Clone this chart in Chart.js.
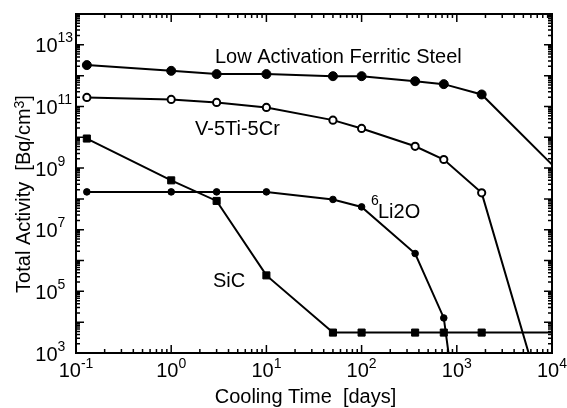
<!DOCTYPE html>
<html><head><meta charset="utf-8">
<script src="https://cdn.jsdelivr.net/npm/chart.js@4/dist/chart.umd.min.js"></script>
<style>html,body{margin:0;padding:0;background:#fff;}canvas{display:block;}</style>
</head><body>
<canvas id="c" width="567" height="408"></canvas>
<script>
// ---- data ----
const coolingDays = [0.13, 1, 3, 10, 50, 100, 365, 730, 1825, 10000];
const steelActivity = [2.2e12, 1.43e12, 1.12e12, 1.12e12, 9.6e11, 9.6e11, 6.6e11, 5.3e11, 2.45e11, 1.3e9];
const vanadiumActivity = [1.96e11, 1.69e11, 1.35e11, 9.3e10, 3.6e10, 1.93e10, 5.1e9, 1.9e9, 1.57e8, 2.6];
const li2oDays = [0.13, 1, 3, 10, 50, 100, 365, 730, 1825];
const li2oActivity = [1.69e8, 1.69e8, 1.69e8, 1.69e8, 9.6e7, 5.5e7, 1.69e6, 1.37e4, 1e-5];
const sicActivity = [9.1e9, 4.0e8, 8.6e7, 3.3e5, 4.6e3, 4.6e3, 4.6e3, 4.6e3, 4.6e3, 4.6e3];
const seriesNames = ['Low Activation Ferritic Steel', 'V-5Ti-5Cr', 'Li2O', 'SiC'];
const li2oIsotope = '6';
const xTickExponents = [-1, 0, 1, 2, 3, 4];
const yTickExponents = [3, 5, 7, 9, 11, 13];
const xRange = [0.1, 1e4];
const yRange = [1e3, 1e14];
const xTitle = 'Cooling Time  [days]';
const yTitleParts = ['Total Activity  [Bq/cm', '3', ']'];

const FONT = '"Liberation Sans", Arial, Helvetica, sans-serif';
const pts = (xs, ys) => xs.map((x, i) => ({x: x, y: ys[i]}));
const hideEdge = (r) => (ctx) => (ctx.raw && ctx.raw.x >= xRange[1]) ? 0 : r;

const framePlugin = {
  id: 'frame',
  beforeDraw(chart) {
    const c = chart.ctx;
    c.save(); c.fillStyle = '#fff'; c.fillRect(0, 0, chart.width, chart.height); c.restore();
  },
  afterDatasetsDraw(chart) {
    const c = chart.ctx, a = chart.chartArea, xs = chart.scales.x, ys = chart.scales.y;
    c.save();
    c.strokeStyle = '#000';
    c.lineWidth = 1.5;
    c.beginPath();
    const x0 = Math.round(Math.log10(xRange[0])), x1 = Math.round(Math.log10(xRange[1]));
    for (let e = x0; e <= x1; e++) {
      for (let m = 1; m <= 9; m++) {
        const v = m * Math.pow(10, e);
        if (v > xRange[1] * 1.0001) break;
        const px = xs.getPixelForValue(v);
        const len = m === 1 ? 8 : 4;
        c.moveTo(px, a.bottom); c.lineTo(px, a.bottom - len);
        c.moveTo(px, a.top); c.lineTo(px, a.top + len);
      }
    }
    const y0 = Math.round(Math.log10(yRange[0])), y1 = Math.round(Math.log10(yRange[1]));
    for (let e = y0; e <= y1; e++) {
      for (let m = 1; m <= 9; m++) {
        const v = m * Math.pow(10, e);
        if (v > yRange[1] * 1.0001) break;
        const py = ys.getPixelForValue(v);
        const len = m === 1 ? 8 : 4;
        c.moveTo(a.left, py); c.lineTo(a.left + len, py);
        c.moveTo(a.right, py); c.lineTo(a.right - len, py);
      }
    }
    c.stroke();
    c.lineWidth = 2;
    c.strokeRect(a.left, a.top, a.right - a.left, a.bottom - a.top);
    c.restore();
  },
  afterDraw(chart) {
    const c = chart.ctx, a = chart.chartArea, xs = chart.scales.x, ys = chart.scales.y;
    c.save();
    c.fillStyle = '#000';
    c.textBaseline = 'alphabetic';
    c.textAlign = 'left';
    const big = '20px ' + FONT, sup = '14px ' + FONT;
    // x tick labels
    xTickExponents.forEach(e => {
      const px = xs.getPixelForValue(Math.pow(10, e));
      c.font = big; const wb = c.measureText('10').width;
      const es = String(e);
      c.font = sup; const we = c.measureText(es).width;
      const start = px - (wb + we) / 2;
      c.font = big; c.fillText('10', start, a.bottom + 24);
      c.font = sup; c.fillText(es, start + wb, a.bottom + 15);
    });
    // y tick labels
    yTickExponents.forEach(e => {
      const py = ys.getPixelForValue(Math.pow(10, e));
      c.font = big; const wb = c.measureText('10').width;
      const edge = a.left - 18.5;
      c.fillText('10', edge - wb, py + 7.5);
      c.font = sup; c.fillText(String(e), edge, py - 2.5);
    });
    // x title
    c.font = big;
    const wt = c.measureText(xTitle).width;
    c.fillText(xTitle, 305.5 - wt / 2, 403);
    // y title (rotated)
    c.save();
    c.translate(30, 194);
    c.rotate(-Math.PI / 2);
    c.font = big; const w1 = c.measureText(yTitleParts[0]).width;
    c.font = sup; const w2 = c.measureText(yTitleParts[1]).width;
    c.font = big; const w3 = c.measureText(yTitleParts[2]).width;
    let s = -(w1 + w2 + w3) / 2;
    c.fillText(yTitleParts[0], s, 0);
    c.font = sup; c.fillText(yTitleParts[1], s + w1, -6);
    c.font = big; c.fillText(yTitleParts[2], s + w1 + w2, 0);
    c.restore();
    // series labels inside the plot
    c.font = big;
    c.fillText(seriesNames[0], 215, 63);
    c.fillText(seriesNames[1], 195, 135);
    c.font = sup; c.fillText(li2oIsotope, 371, 205);
    c.font = big; c.fillText(seriesNames[2], 378, 218);
    c.fillText(seriesNames[3], 213, 287);
    c.restore();
  }
};

new Chart(document.getElementById('c'), {
  type: 'line',
  data: {
    datasets: [
      { label: seriesNames[0], data: pts(coolingDays, steelActivity),
        borderColor: '#000', borderWidth: 2, pointStyle: 'circle',
        pointRadius: hideEdge(4.5), pointBackgroundColor: '#000', pointBorderColor: '#000', pointBorderWidth: 1 },
      { label: seriesNames[1], data: pts(coolingDays, vanadiumActivity),
        borderColor: '#000', borderWidth: 2, pointStyle: 'circle',
        pointRadius: hideEdge(3.6), pointBackgroundColor: '#fff', pointBorderColor: '#000', pointBorderWidth: 2 },
      { label: seriesNames[2], data: pts(li2oDays, li2oActivity),
        borderColor: '#000', borderWidth: 2, pointStyle: 'circle',
        pointRadius: hideEdge(3.3), pointBackgroundColor: '#000', pointBorderColor: '#000', pointBorderWidth: 1 },
      { label: seriesNames[3], data: pts(coolingDays, sicActivity),
        borderColor: '#000', borderWidth: 2, pointStyle: 'rect',
        pointRadius: hideEdge(5), pointBackgroundColor: '#000', pointBorderColor: '#000', pointBorderWidth: 1 }
    ]
  },
  options: {
    responsive: false,
    animation: false,
    layout: { padding: { left: 76, right: 15, top: 14, bottom: 55 } },
    plugins: { legend: { display: false }, tooltip: { enabled: false } },
    elements: { line: { tension: 0 } },
    scales: {
      x: { type: 'logarithmic', min: xRange[0], max: xRange[1], display: false },
      y: { type: 'logarithmic', min: yRange[0], max: yRange[1], display: false }
    }
  },
  plugins: [framePlugin]
});
</script>
</body></html>
